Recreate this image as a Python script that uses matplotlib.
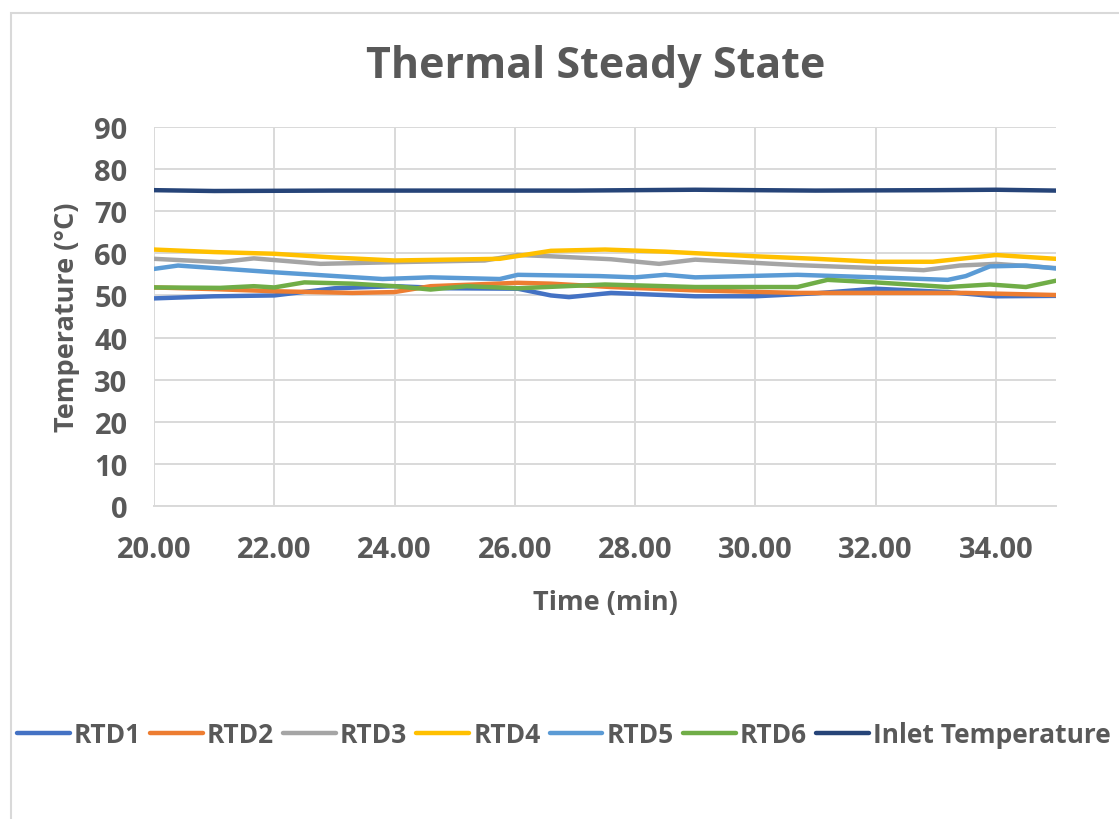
import matplotlib.pyplot as plt
from matplotlib.patches import Rectangle
import numpy as np

plt.rc('font', family='Open Sans', weight='bold')

# readings (min, degC) taken off the chart
t_rtd1 = [20.0, 21.0, 22.0, 23.0, 24.0, 24.9, 26.05, 26.6, 26.9, 27.6, 29.0, 30.0, 31.0, 32.0, 33.2, 34.0, 35.0]
rtd1 = [49.3, 49.8, 50.0, 51.7, 52.2, 51.7, 51.6, 50.0, 49.6, 50.6, 49.8, 49.8, 50.5, 51.6, 50.8, 49.8, 49.9]

t_rtd2 = [20.0, 21.0, 22.0, 23.3, 24.0, 24.6, 26.05, 26.6, 27.6, 29.0, 30.7, 32.0, 33.5, 35.0]
rtd2 = [51.9, 51.5, 51.0, 50.6, 50.8, 52.2, 53.0, 52.8, 52.0, 51.2, 50.6, 50.6, 50.6, 50.1]

t_rtd3 = [20.0, 21.1, 21.66, 22.77, 24.0, 25.5, 26.05, 26.6, 27.6, 28.4, 29.0, 30.7, 32.0, 32.8, 33.4, 34.0, 35.0]
rtd3 = [58.7, 57.9, 58.8, 57.5, 57.9, 58.3, 59.6, 59.3, 58.6, 57.5, 58.5, 57.2, 56.5, 56.0, 57.1, 57.5, 56.5]

t_rtd4 = [20.0, 21.0, 22.0, 23.0, 24.0, 25.75, 26.6, 27.5, 28.5, 30.0, 31.0, 32.0, 32.95, 34.0, 35.0]
rtd4 = [60.9, 60.3, 59.9, 59.0, 58.3, 58.7, 60.6, 60.9, 60.4, 59.3, 58.7, 58.0, 58.0, 59.6, 58.7]

t_rtd5 = [20.0, 20.4, 22.0, 23.8, 24.6, 25.75, 26.05, 27.4, 28.0, 28.5, 29.0, 30.7, 32.0, 33.2, 33.5, 33.9, 34.5, 35.0]
rtd5 = [56.3, 57.1, 55.5, 53.9, 54.3, 53.9, 54.9, 54.6, 54.3, 54.9, 54.3, 54.9, 54.3, 53.7, 54.6, 56.9, 57.1, 56.4]

t_rtd6 = [20.0, 21.1, 21.66, 22.0, 22.5, 23.3, 24.0, 24.6, 25.2, 26.05, 27.5, 29.0, 30.7, 31.2, 32.0, 33.2, 33.9, 34.5, 35.0]
rtd6 = [51.9, 51.8, 52.2, 51.9, 53.1, 52.8, 52.2, 51.4, 52.2, 51.7, 52.6, 52.0, 52.0, 53.7, 53.1, 52.0, 52.6, 52.0, 53.5]

t_inlet = [20.0, 21.0, 23.0, 25.0, 27.0, 29.0, 31.0, 33.0, 34.0, 35.0]
inlet = [75.0, 74.8, 74.9, 74.9, 74.9, 75.1, 74.9, 75.0, 75.1, 74.9]

series = [
    ('RTD1', t_rtd1, rtd1, '#4472C4'),
    ('RTD2', t_rtd2, rtd2, '#ED7D31'),
    ('RTD3', t_rtd3, rtd3, '#A5A5A5'),
    ('RTD4', t_rtd4, rtd4, '#FFC000'),
    ('RTD5', t_rtd5, rtd5, '#5B9BD5'),
    ('RTD6', t_rtd6, rtd6, '#70AD47'),
    ('Inlet Temperature', t_inlet, inlet, '#264478'),
]

grey = '#595959'

fig = plt.figure(figsize=(11.19, 8.2), dpi=100)
# chart frame, cut off at the right and bottom
fig.patches.append(Rectangle((11 / 1119, -0.1), 1.2, 1 - 14 / 820 + 0.1,
                             transform=fig.transFigure, fill=False,
                             edgecolor='#D9D9D9', lw=1.5))
ax = fig.add_axes([154 / 1119, 1 - 507 / 820, 902 / 1119, 379 / 820])

for name, t, v, c in series:
    ax.plot(t, v, color=c, lw=3.2, label=name, solid_capstyle='round')

ax.set_xlim(20, 35)
ax.set_ylim(0, 90)
ax.set_xticks(np.arange(20, 35, 2))
ax.set_xticklabels(['%.2f' % x for x in np.arange(20, 35, 2)])
ax.set_yticks(np.arange(0, 91, 10))
ax.grid(True, color='#D9D9D9', lw=1.4)
ax.set_axisbelow(True)
for s in ['top', 'right', 'left']:
    ax.spines[s].set_visible(False)
ax.spines['bottom'].set_color('#D9D9D9')
ax.spines['bottom'].set_linewidth(1.4)
ax.tick_params(length=0, labelsize=21, labelcolor=grey)
ax.tick_params(axis='x', pad=21)
ax.tick_params(axis='y', pad=19)

ax.set_xlabel('Time (min)', fontsize=19.5, color=grey, fontweight='bold', labelpad=18)
ax.set_ylabel('Temperature (°C)', fontsize=19.5, color=grey, fontweight='bold', labelpad=10)
fig.suptitle('Thermal Steady State', fontsize=31, color=grey, fontweight='bold',
             x=596 / 1119, y=1 - 66 / 820, va='center')

fig.legend(loc='center left', bbox_to_anchor=(17 / 1119, 1 - 736 / 820), ncol=7, frameon=False,
           fontsize=19, labelcolor=grey, handlelength=2.0, handletextpad=0.15, columnspacing=0.35,
           borderaxespad=0, borderpad=0)

fig.savefig('out.png', dpi=100)
